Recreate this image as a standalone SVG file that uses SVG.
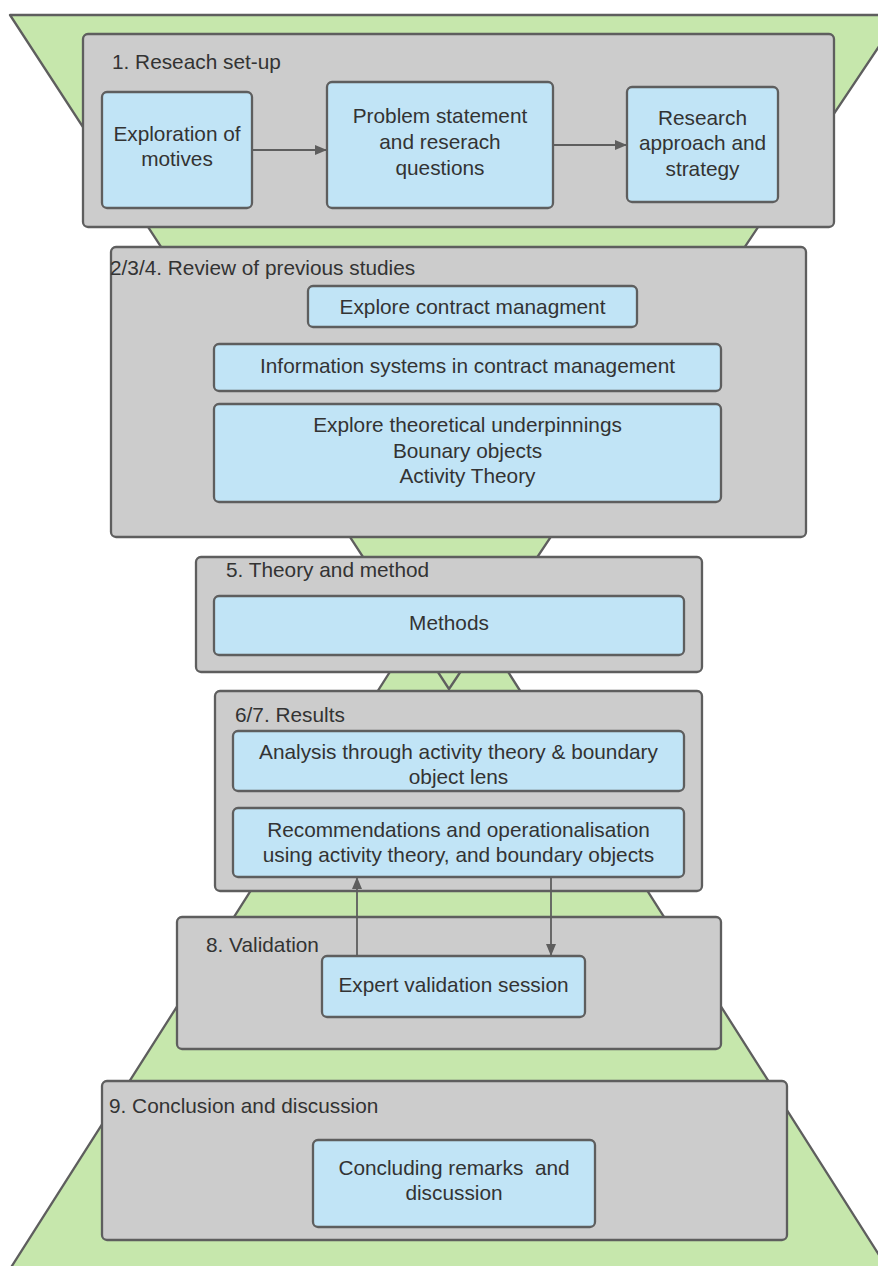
<svg xmlns="http://www.w3.org/2000/svg" width="878" height="1266" viewBox="0 0 878 1266">
<defs>
<style>
.bg{fill:#c6e7ac;stroke:#5e5e5e;stroke-width:2.3;stroke-linejoin:round}
.grp{fill:#cccccc;stroke:#5e5e5e;stroke-width:2.3}
.node{fill:#c1e4f6;stroke:#5e5e5e;stroke-width:2.3}
text{font-family:"Liberation Sans",Arial,sans-serif;font-size:20.8px;fill:#333333}
.c{text-anchor:middle}
.edge{stroke:#5e5e5e;stroke-width:1.8;fill:none;marker-end:url(#ah)}
</style>
<marker id="ah" viewBox="0 0 12 10" refX="11" refY="5" markerWidth="12" markerHeight="10" markerUnits="userSpaceOnUse" orient="auto">
<path d="M0,0 L12,5 L0,10 Z" fill="#5e5e5e"/>
</marker>
</defs>
<g id="hourglass">
<polygon class="bg" points="449,579 3,1280 895,1280"/>
<polygon class="bg" points="10,15 900,15 449,689"/>
</g>
<g id="stage1">
<rect class="grp" x="83" y="34" width="751" height="193" rx="5"/>
<text x="112" y="69">1. Reseach set-up</text>
</g>
<g id="n-motives">
<rect class="node" x="102" y="92" width="150" height="116" rx="5"/>
<text class="c" x="177" y="141">Exploration of</text>
<text class="c" x="177" y="166">motives</text>
</g>
<g id="n-problem">
<rect class="node" x="327" y="82" width="226" height="126" rx="5"/>
<text class="c" x="440" y="123">Problem statement</text>
<text class="c" x="440" y="149">and reserach</text>
<text class="c" x="440" y="174.5">questions</text>
</g>
<g id="n-approach">
<rect class="node" x="627" y="87" width="151" height="115" rx="5"/>
<text class="c" x="702.5" y="124.5">Research</text>
<text class="c" x="702.5" y="150">approach and</text>
<text class="c" x="702.5" y="175.5">strategy</text>
</g>
<g id="stage2">
<rect class="grp" x="111" y="247" width="695" height="290" rx="5"/>
<text x="110" y="275">2/3/4. Review of previous studies</text>
</g>
<g id="n-contract">
<rect class="node" x="308" y="286" width="329" height="41" rx="5"/>
<text class="c" x="472.5" y="314">Explore contract managment</text>
</g>
<g id="n-infosys">
<rect class="node" x="214" y="344" width="507" height="47" rx="5"/>
<text class="c" x="467.5" y="373">Information systems in contract management</text>
</g>
<g id="n-theory">
<rect class="node" x="214" y="404" width="507" height="98" rx="5"/>
<text class="c" x="467.5" y="432">Explore theoretical underpinnings</text>
<text class="c" x="467.5" y="457.5">Bounary objects</text>
<text class="c" x="467.5" y="483">Activity Theory</text>
</g>
<g id="stage5">
<rect class="grp" x="196" y="557" width="506" height="115" rx="5"/>
<text x="226" y="577">5. Theory and method</text>
</g>
<g id="n-methods">
<rect class="node" x="214" y="596" width="470" height="59" rx="5"/>
<text class="c" x="449" y="630">Methods</text>
</g>
<g id="stage67">
<rect class="grp" x="215" y="691" width="487" height="200" rx="5"/>
<text x="235" y="722">6/7. Results</text>
</g>
<g id="n-analysis">
<rect class="node" x="233" y="731" width="451" height="60" rx="5"/>
<text class="c" x="458.5" y="759">Analysis through activity theory &amp; boundary</text>
<text class="c" x="458.5" y="784">object lens</text>
</g>
<g id="n-recommend">
<rect class="node" x="233" y="808" width="451" height="69" rx="5"/>
<text class="c" x="458.5" y="837">Recommendations and operationalisation</text>
<text class="c" x="458.5" y="862">using activity theory, and boundary objects</text>
</g>
<g id="stage8">
<rect class="grp" x="177" y="917" width="544" height="132" rx="5"/>
<text x="206" y="952">8. Validation</text>
</g>
<g id="n-expert">
<rect class="node" x="322" y="956" width="263" height="61" rx="5"/>
<text class="c" x="453.5" y="992">Expert validation session</text>
</g>
<g id="stage9">
<rect class="grp" x="102" y="1081" width="685" height="159" rx="5"/>
<text x="109" y="1113">9. Conclusion and discussion</text>
</g>
<g id="n-conclude">
<rect class="node" x="313" y="1140" width="282" height="87" rx="5"/>
<text class="c" x="454" y="1175" xml:space="preserve">Concluding remarks  and</text>
<text class="c" x="454" y="1200">discussion</text>
</g>
<g id="connectors">
<path class="edge" d="M252,150 L326,150"/>
<path class="edge" d="M553,145 L626,145"/>
<path class="edge" d="M357,956 L357,878"/>
<path class="edge" d="M551,877 L551,955"/>
</g>
</svg>
